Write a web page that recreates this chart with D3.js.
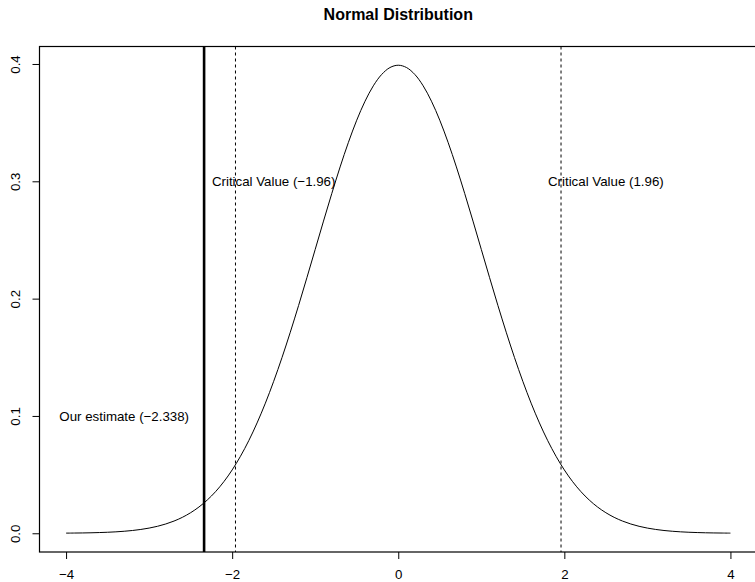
<!DOCTYPE html>
<html>
<head>
<meta charset="utf-8">
<script src="https://cdn.jsdelivr.net/npm/d3@7"></script>
<style>
  html, body { margin: 0; padding: 0; background: #ffffff; }
  svg { display: block; }
  text { font-family: "Liberation Sans", Arial, Helvetica, sans-serif; fill: #000; }
</style>
</head>
<body>
<svg id="chart" width="755" height="582"></svg>
<script>
// Standard normal density sampled on a 0.1 grid from -4 to 4
const xGrid = [
  -4.0, -3.9, -3.8, -3.7, -3.6, -3.5, -3.4, -3.3, -3.2, -3.1,
  -3.0, -2.9, -2.8, -2.7, -2.6, -2.5, -2.4, -2.3, -2.2, -2.1,
  -2.0, -1.9, -1.8, -1.7, -1.6, -1.5, -1.4, -1.3, -1.2, -1.1,
  -1.0, -0.9, -0.8, -0.7, -0.6, -0.5, -0.4, -0.3, -0.2, -0.1,
   0.0,
   0.1,  0.2,  0.3,  0.4,  0.5,  0.6,  0.7,  0.8,  0.9,  1.0,
   1.1,  1.2,  1.3,  1.4,  1.5,  1.6,  1.7,  1.8,  1.9,  2.0,
   2.1,  2.2,  2.3,  2.4,  2.5,  2.6,  2.7,  2.8,  2.9,  3.0,
   3.1,  3.2,  3.3,  3.4,  3.5,  3.6,  3.7,  3.8,  3.9,  4.0
];
const density = [
  0.00013, 0.00020, 0.00029, 0.00042, 0.00061, 0.00087, 0.00123, 0.00172, 0.00238, 0.00327,
  0.00443, 0.00595, 0.00792, 0.01042, 0.01358, 0.01753, 0.02239, 0.02833, 0.03547, 0.04398,
  0.05399, 0.06562, 0.07895, 0.09405, 0.11092, 0.12952, 0.14973, 0.17137, 0.19419, 0.21785,
  0.24197, 0.26609, 0.28969, 0.31225, 0.33322, 0.35207, 0.36827, 0.38139, 0.39104, 0.39695,
  0.39894,
  0.39695, 0.39104, 0.38139, 0.36827, 0.35207, 0.33322, 0.31225, 0.28969, 0.26609, 0.24197,
  0.21785, 0.19419, 0.17137, 0.14973, 0.12952, 0.11092, 0.09405, 0.07895, 0.06562, 0.05399,
  0.04398, 0.03547, 0.02833, 0.02239, 0.01753, 0.01358, 0.01042, 0.00792, 0.00595, 0.00443,
  0.00327, 0.00238, 0.00172, 0.00123, 0.00087, 0.00061, 0.00042, 0.00029, 0.00020, 0.00013
];

// Reference lines
const criticalValues = [-1.96, 1.96];
const estimate = -2.338;

// Annotations
const labelX = [-1.5, 2.5, -3.3];
const labelY = [0.3, 0.3, 0.1];
const labelText = ["Critical Value (\u22121.96)", "Critical Value (1.96)", "Our estimate (\u22122.338)"];

// Axis ticks
const xTicks = [-4, -2, 0, 2, 4];
const xTickLabels = ["\u22124", "\u22122", "0", "2", "4"];
const yTicks = [0.0, 0.1, 0.2, 0.3, 0.4];
const yTickLabels = ["0.0", "0.1", "0.2", "0.3", "0.4"];

const title = "Normal Distribution";

const svg = d3.select("#chart");

// Plot region with 4% padding on each side of the data range
const xMin = -4, xMax = 4, yMin = 0, yMax = d3.max(density);
const xPad = (xMax - xMin) * 0.04, yPad = (yMax - yMin) * 0.04;
const plot = { left: 39.5, right: 757, top: 46.5, bottom: 552 };

const x = d3.scaleLinear().domain([xMin - xPad, xMax + xPad]).range([plot.left, plot.right]);
const y = d3.scaleLinear().domain([yMin - yPad, yMax + yPad]).range([plot.bottom, plot.top]);

// Title
svg.append("text")
  .attr("x", (plot.left + plot.right) / 2)
  .attr("y", 20)
  .attr("text-anchor", "middle")
  .style("font-size", "16px")
  .style("font-weight", "bold")
  .text(title);

// Density curve
const line = d3.line()
  .x((d, i) => x(xGrid[i]))
  .y(d => y(d))
  .curve(d3.curveCatmullRom);

svg.append("path")
  .datum(density)
  .attr("d", line)
  .attr("fill", "none")
  .attr("stroke", "#000")
  .attr("stroke-width", 1);

// Critical value lines (dashed, full height)
svg.selectAll("line.crit")
  .data(criticalValues)
  .join("line")
  .attr("class", "crit")
  .attr("x1", d => x(d)).attr("x2", d => x(d))
  .attr("y1", plot.top).attr("y2", plot.bottom)
  .attr("stroke", "#000")
  .attr("stroke-width", 1)
  .attr("stroke-dasharray", "3,3");

// Estimate line (solid, heavier)
svg.append("line")
  .attr("x1", x(estimate)).attr("x2", x(estimate))
  .attr("y1", plot.top).attr("y2", plot.bottom)
  .attr("stroke", "#000")
  .attr("stroke-width", 2.6);

// Annotation text
svg.selectAll("text.note")
  .data(labelText)
  .join("text")
  .attr("class", "note")
  .attr("x", (d, i) => x(labelX[i]))
  .attr("y", (d, i) => y(labelY[i]))
  .attr("dy", "0.36em")
  .attr("text-anchor", "middle")
  .style("font-size", "13.3px")
  .text(d => d);

// Bottom axis
const xAxis = d3.axisBottom(x)
  .tickValues(xTicks)
  .tickFormat((d, i) => xTickLabels[i])
  .tickSize(7)
  .tickPadding(15);
const gx = svg.append("g")
  .attr("transform", `translate(0,${plot.bottom})`)
  .call(xAxis);
gx.select(".domain").remove();
gx.selectAll("text")
  .style("font-size", "13.3px")
  .style("font-family", "Liberation Sans, Arial, sans-serif")
  .attr("dy", "0.36em");
gx.selectAll("line").attr("stroke", "#000");

// Left axis with rotated labels
const yAxis = d3.axisLeft(y)
  .tickValues(yTicks)
  .tickFormat((d, i) => yTickLabels[i])
  .tickSize(7);
const gy = svg.append("g")
  .attr("transform", `translate(${plot.left},0)`)
  .call(yAxis);
gy.select(".domain").remove();
gy.selectAll("line").attr("stroke", "#000");
gy.selectAll("text")
  .style("font-size", "13.3px")
  .style("font-family", "Liberation Sans, Arial, sans-serif")
  .attr("x", null).attr("dy", null)
  .attr("text-anchor", "middle")
  .attr("transform", "translate(-19.5,0) rotate(-90)");

// Plot frame
svg.append("rect")
  .attr("x", plot.left).attr("y", plot.top)
  .attr("width", plot.right - plot.left)
  .attr("height", plot.bottom - plot.top)
  .attr("fill", "none")
  .attr("stroke", "#000")
  .attr("stroke-width", 1.2);
</script>
</body>
</html>
